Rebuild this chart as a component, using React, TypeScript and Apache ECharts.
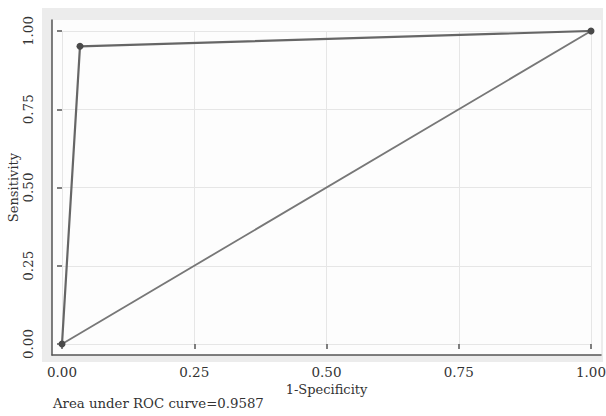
import React, { useEffect, useRef } from "react";
import * as echarts from "echarts";

const rocFpr = [0, 0.034, 1];
const rocTpr = [0, 0.951, 1];
const refX = [0, 1];
const refY = [0, 1];
const tickStep = 0.25;
const xTitle = "1-Specificity";
const yTitle = "Sensitivity";
const aucText = "Area under ROC curve=0.9587";

const FONT = "DejaVu Serif";

export default function App() {
  const ref = useRef<HTMLDivElement>(null);
  useEffect(() => {
    if (!ref.current) return;
    const chart = echarts.init(ref.current, undefined, { renderer: "svg" });
    const axisColor = "#555";
    const labelStyle = { color: "#333", fontFamily: FONT, fontSize: 13.5 };
    chart.setOption({
      animation: false,
      backgroundColor: "#fff",
      graphic: [
        {
          type: "rect",
          z: -10,
          shape: { x: 42, y: 8, width: 561, height: 354 },
          style: { fill: "#ececec" },
          silent: true,
        },
      ],
      title: {
        text: aucText,
        left: 53,
        top: 397,
        textStyle: { fontFamily: FONT, fontSize: 13.3, fontWeight: "normal", color: "#333" },
        padding: 0,
      },
      grid: [
        { left: 62, right: 15, top: 31, bottom: 72, show: false, outerBoundsMode: "none", containLabel: false },
        { left: 52, right: 5, top: 20, bottom: 61, show: true, backgroundColor: "#fdfdfd", borderWidth: 0, z: -5, outerBoundsMode: "none", containLabel: false },
      ],
      xAxis: [
        {
          type: "value",
          gridIndex: 0,
          min: 0,
          max: 1,
          interval: tickStep,
          offset: 10,
          name: xTitle,
          nameLocation: "middle",
          nameGap: 29,
          nameMoveOverlap: false,
          nameTextStyle: { ...labelStyle, fontSize: 13 },
          axisLine: { show: false },
          axisTick: { show: true, length: 5, lineStyle: { color: axisColor, width: 1.5 } },
          axisLabel: { ...labelStyle, margin: 11, formatter: (v: number) => v.toFixed(2) },
          splitLine: { show: true, lineStyle: { color: "#e6e6e6", width: 1 } },
        },
        {
          type: "value",
          gridIndex: 1,
          min: 0,
          max: 1,
          axisLine: { show: true, onZero: false, lineStyle: { color: axisColor, width: 1.5 } },
          axisTick: { show: false },
          axisLabel: { show: false },
          splitLine: { show: false },
        },
      ],
      yAxis: [
        {
          type: "value",
          gridIndex: 0,
          min: 0,
          max: 1,
          interval: tickStep,
          offset: 10,
          name: yTitle,
          nameLocation: "middle",
          nameGap: 32,
          nameMoveOverlap: false,
          nameTextStyle: { ...labelStyle, fontSize: 13 },
          axisLine: { show: false },
          axisTick: { show: true, length: 5, lineStyle: { color: axisColor, width: 1.5 } },
          axisLabel: { ...labelStyle, rotate: 90, margin: 17, formatter: (v: number) => v.toFixed(2) },
          splitLine: { show: true, lineStyle: { color: "#e6e6e6", width: 1 } },
        },
        {
          type: "value",
          gridIndex: 1,
          min: 0,
          max: 1,
          axisLine: { show: true, onZero: false, lineStyle: { color: axisColor, width: 1.5 } },
          axisTick: { show: false },
          axisLabel: { show: false },
          splitLine: { show: false },
        },
      ],
      series: [
        {
          type: "line",
          xAxisIndex: 0,
          yAxisIndex: 0,
          data: refX.map((x, i) => [x, refY[i]]),
          showSymbol: false,
          symbol: "none",
          lineStyle: { color: "#777", width: 1.8 },
          z: 2,
        },
        {
          type: "line",
          xAxisIndex: 0,
          yAxisIndex: 0,
          data: rocFpr.map((x, i) => [x, rocTpr[i]]),
          symbol: "circle",
          symbolSize: 7,
          itemStyle: { color: "#4a4a4a" },
          lineStyle: { color: "#666", width: 2.2 },
          z: 3,
        },
      ],
    });
    return () => chart.dispose();
  }, []);
  return <div ref={ref} style={{ width: 606, height: 416, position: "absolute", left: 0, top: 0 }} />;
}
